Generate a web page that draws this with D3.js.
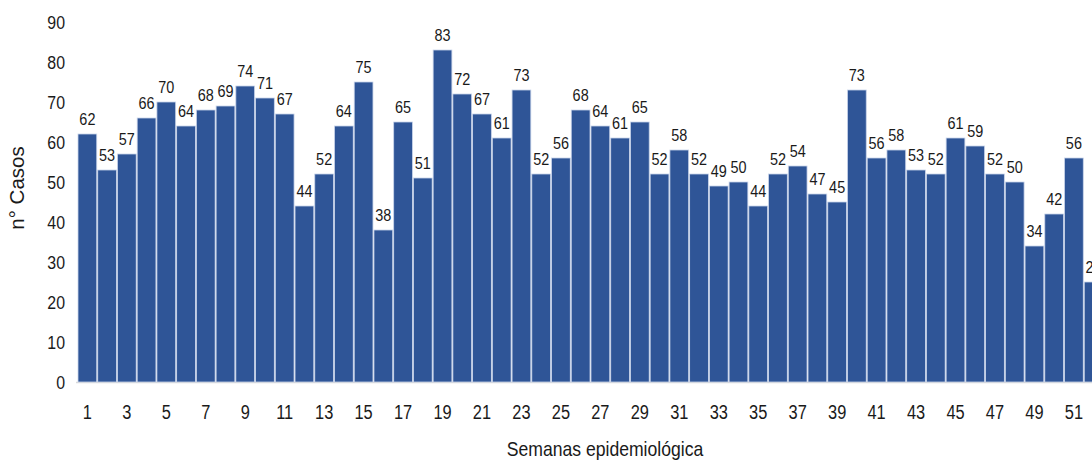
<!DOCTYPE html>
<html>
<head>
<meta charset="utf-8">
<script src="https://cdn.jsdelivr.net/npm/d3@7"></script>
<style>
  body { margin: 0; background: #fff; }
  svg { display: block; font-family: Arial, "Liberation Sans", sans-serif; }
</style>
</head>
<body>
<svg id="chart"></svg>
<script>
/*
Weekly case counts, epidemiological weeks 1-52
 */
var weeks = d3.range(1, 53);
var cases = [62, 53, 57, 66, 70, 64, 68, 69, 74, 71, 67, 44, 52, 64, 75, 38, 65, 51, 83, 72,
             67, 61, 73, 52, 56, 68, 64, 61, 65, 52, 58, 52, 49, 50, 44, 52, 54, 47, 45, 73,
             56, 58, 53, 52, 61, 59, 52, 50, 34, 42, 56, 25];
var yTicks = [0, 10, 20, 30, 40, 50, 60, 70, 80, 90];
var yTitle = "n° Casos";
var xTitle = "Semanas epidemiológica";

const width = 1092;
const height = 460;
const barColor = "#2F5597";

var svg = d3.select("#chart")
    .attr("width", width)
    .attr("height", height);

//band runs past the right edge, same as the cropped original
var x = d3.scaleBand()
    .domain(weeks)
    .range([78, 1103])
    .paddingInner(0.05)
    .paddingOuter(0);

var y = d3.scaleLinear()
    .domain([0, 90])
    .range([382, 22]);

//narrow text: the source uses a condensed face
function narrowText(g, px, py, str, size, sx, anchor) {
    return g.append("text")
        .attr("transform", "translate(" + px + "," + py + ") scale(" + sx + ",1)")
        .attr("text-anchor", anchor)
        .attr("font-size", size)
        .attr("fill", "#1a1a1a")
        .text(str);
}

// y tick labels
var yAxisG = svg.append("g");
yTicks.forEach(function(t) {
    narrowText(yAxisG, 65, y(t) + 6.5, t, 18.5, 0.86, "end");
});

// baseline
svg.append("line")
    .attr("x1", 76).attr("x2", width)
    .attr("y1", y(0) + 0.5).attr("y2", y(0) + 0.5)
    .attr("stroke", "#d9d9d9")
    .attr("stroke-width", 1.5);

// bars
svg.append("g")
    .selectAll("rect")
    .data(weeks)
    .join("rect")
    .attr("x", function(d) { return x(d); })
    .attr("y", function(d, i) { return y(cases[i]); })
    .attr("width", x.bandwidth())
    .attr("height", function(d, i) { return y(0) - y(cases[i]); })
    .attr("fill", barColor)
    .attr("stroke", "#c9d4ea")
    .attr("stroke-width", 0.8);

// value labels
var labelG = svg.append("g");
weeks.forEach(function(w, i) {
    narrowText(labelG, x(w) + x.bandwidth() / 2, y(cases[i]) - 9, cases[i], 16.8, 0.86, "middle");
});

// x tick labels, odd weeks only
var xAxisG = svg.append("g");
weeks.filter(function(w) { return w % 2 === 1; }).forEach(function(w) {
    narrowText(xAxisG, x(w) + x.bandwidth() / 2, 419, w, 20.5, 0.8, "middle");
});

// axis titles
narrowText(svg, 605, 456, xTitle, 20, 0.88, "middle");

svg.append("text")
    .attr("transform", "translate(24,188) rotate(-90)")
    .attr("text-anchor", "middle")
    .attr("font-size", 20.5)
    .attr("fill", "#1a1a1a")
    .text(yTitle);
</script>
</body>
</html>
